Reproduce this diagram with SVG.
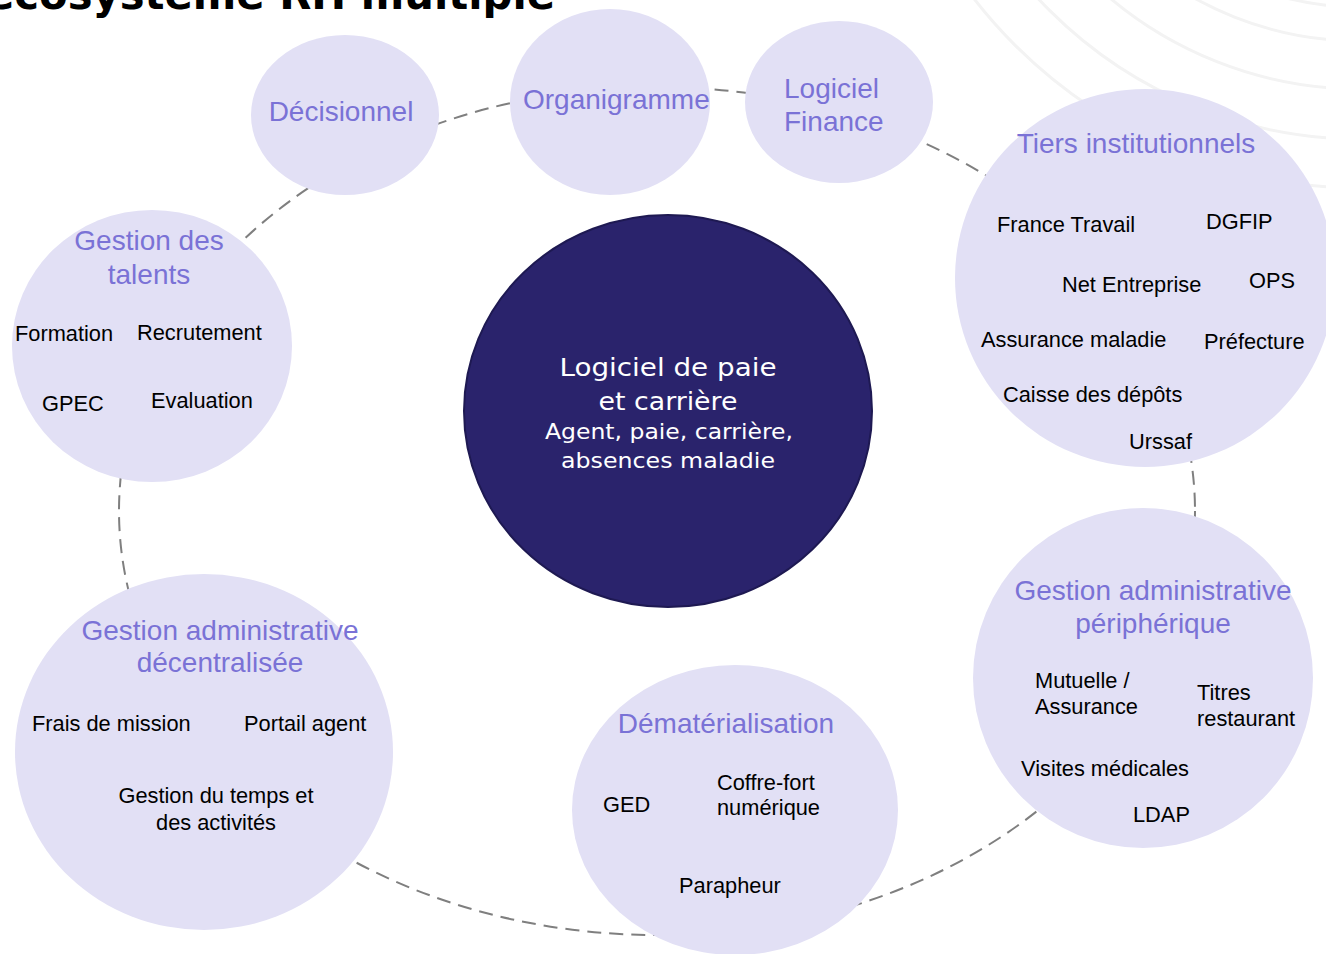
<svg xmlns="http://www.w3.org/2000/svg" width="1326" height="954" viewBox="0 0 1326 954">
<style>
.bg{fill:none;stroke:#f3f3f3;stroke-width:3}
.node{fill:#e2e0f5}
.core{fill:#2a236c;stroke:#1e1952;stroke-width:2}
.h{font-family:"Liberation Sans",Arial,sans-serif;font-size:28px;fill:#7a72d6}
.t{font-family:"Liberation Sans",Arial,sans-serif;font-size:21.8px;fill:#000}
.c{text-anchor:middle}
.w{font-family:"DejaVu Sans","Liberation Sans",sans-serif;fill:#fff;text-anchor:middle}
.link{fill:none;stroke:#7f7f7f;stroke-width:2;stroke-dasharray:14 8}
</style>
<rect width="1326" height="954" fill="#fff"/>
<g id="background">
<circle class="bg" cx="1360" cy="-300" r="307"/>
<circle class="bg" cx="1360" cy="-300" r="341"/>
<circle class="bg" cx="1360" cy="-300" r="389"/>
<circle class="bg" cx="1360" cy="-300" r="439"/>
<circle class="bg" cx="1360" cy="-300" r="488"/>
</g>
<text id="title" x="-14" y="9" textLength="569" lengthAdjust="spacingAndGlyphs" font-family="'DejaVu Sans','Liberation Sans',sans-serif" font-weight="bold" font-size="42" fill="#000">écosystème RH multiple</text>
<g id="connectors">
<ellipse class="link" cx="657" cy="511" rx="538" ry="424"/>
</g>
<g id="decisionnel">
<ellipse class="node" cx="345" cy="115" rx="94" ry="80"/>
<text class="h c" x="341" y="121">Décisionnel</text>
</g>
<g id="organigramme">
<ellipse class="node" cx="610" cy="102" rx="100" ry="93"/>
<text class="h" x="523" y="109">Organigramme</text>
</g>
<g id="logiciel-finance">
<ellipse class="node" cx="839" cy="102" rx="94" ry="81"/>
<text class="h" x="784" y="98">Logiciel</text>
<text class="h" x="784" y="131">Finance</text>
</g>
<g id="tiers-institutionnels">
<ellipse class="node" cx="1145" cy="278" rx="190" ry="189"/>
<text class="h c" x="1136" y="153">Tiers institutionnels</text>
<text class="t" x="997" y="232">France Travail</text>
<text class="t" x="1206" y="229">DGFIP</text>
<text class="t" x="1062" y="292">Net Entreprise</text>
<text class="t" x="1249" y="288">OPS</text>
<text class="t" x="981" y="347">Assurance maladie</text>
<text class="t" x="1204" y="349">Préfecture</text>
<text class="t" x="1003" y="402">Caisse des dépôts</text>
<text class="t" x="1129" y="449">Urssaf</text>
</g>
<g id="gestion-talents">
<ellipse class="node" cx="152" cy="346" rx="140" ry="136"/>
<text class="h c" x="149" y="250">Gestion des</text>
<text class="h c" x="149" y="284">talents</text>
<text class="t" x="15" y="341">Formation</text>
<text class="t" x="137" y="340">Recrutement</text>
<text class="t" x="42" y="411">GPEC</text>
<text class="t" x="151" y="408">Evaluation</text>
</g>
<g id="logiciel-paie">
<ellipse class="core" cx="668" cy="411" rx="204" ry="196"/>
<text class="w" x="668" y="376" font-size="25" textLength="217" lengthAdjust="spacingAndGlyphs">Logiciel de paie</text>
<text class="w" x="668" y="410" font-size="25" textLength="139" lengthAdjust="spacingAndGlyphs">et carrière</text>
<text class="w" x="669" y="439" font-size="22" textLength="248" lengthAdjust="spacingAndGlyphs">Agent, paie, carrière,</text>
<text class="w" x="668" y="468" font-size="22" textLength="214" lengthAdjust="spacingAndGlyphs">absences maladie</text>
</g>
<g id="gestion-decentralisee">
<ellipse class="node" cx="204" cy="752" rx="189" ry="178"/>
<text class="h c" x="220" y="640">Gestion administrative</text>
<text class="h c" x="220" y="672">décentralisée</text>
<text class="t" x="32" y="731">Frais de mission</text>
<text class="t" x="244" y="731">Portail agent</text>
<text class="t c" x="216" y="803">Gestion du temps et</text>
<text class="t c" x="216" y="830">des activités</text>
</g>
<g id="dematerialisation">
<ellipse class="node" cx="735" cy="810" rx="163" ry="145"/>
<text class="h c" x="726" y="733">Dématérialisation</text>
<text class="t" x="603" y="812">GED</text>
<text class="t" x="717" y="790">Coffre-fort</text>
<text class="t" x="717" y="815">numérique</text>
<text class="t" x="679" y="893">Parapheur</text>
</g>
<g id="gestion-peripherique">
<ellipse class="node" cx="1143" cy="678" rx="170" ry="170"/>
<text class="h c" x="1153" y="600">Gestion administrative</text>
<text class="h c" x="1153" y="633">périphérique</text>
<text class="t" x="1035" y="688">Mutuelle /</text>
<text class="t" x="1035" y="714">Assurance</text>
<text class="t" x="1197" y="700">Titres</text>
<text class="t" x="1197" y="726">restaurant</text>
<text class="t" x="1021" y="776">Visites médicales</text>
<text class="t" x="1133" y="822">LDAP</text>
</g>
</svg>
